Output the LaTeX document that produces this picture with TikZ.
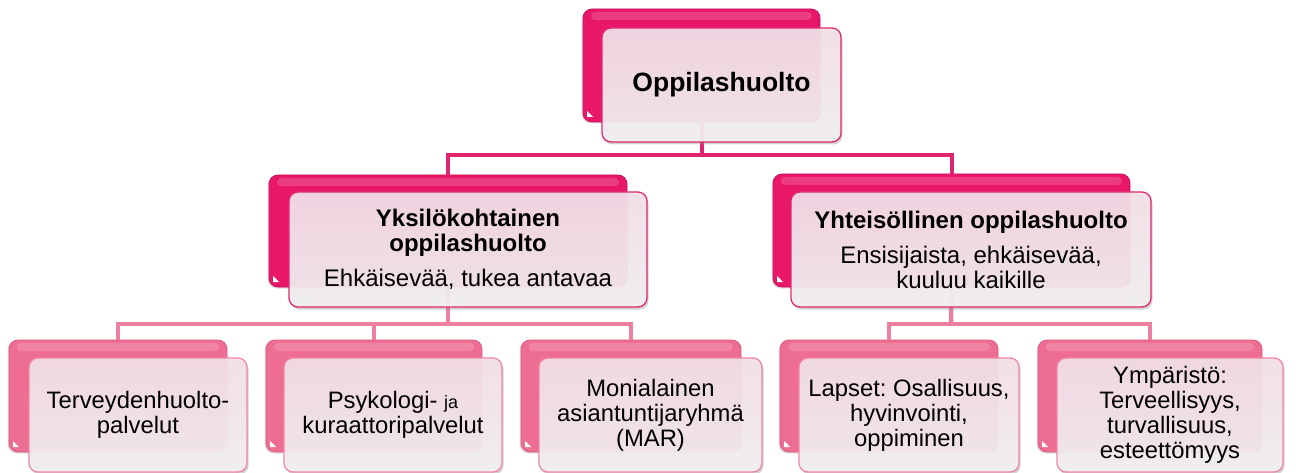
\documentclass[tikz,border=0pt]{standalone}
\usepackage{fontspec}
\setmainfont{Liberation Sans}
\usetikzlibrary{calc,shadows}
\frenchspacing
\definecolor{magBase}{HTML}{E8176A}
\definecolor{magDark}{HTML}{C9105A}
\definecolor{pinkBase}{HTML}{EE6D93}
\definecolor{pinkDark}{HTML}{DA5A80}
\definecolor{frTop}{HTML}{F4E0E9}
\definecolor{frBot}{HTML}{F3F1F2}
\definecolor{frLineA}{HTML}{E1286F}
\definecolor{frLineC}{HTML}{EF86A5}
\definecolor{connA}{HTML}{E0246E}
\definecolor{connC}{HTML}{EE809F}
\tikzset{
  backA/.style={anchor=north west, inner sep=0pt, outer sep=0pt, rounded corners=9pt,
    draw=magDark, line width=0.8pt, fill=magBase,
    drop shadow={shadow xshift=-1.5pt, shadow yshift=-1.5pt, opacity=0.25}},
  backC/.style={anchor=north west, inner sep=0pt, outer sep=0pt, rounded corners=9pt,
    draw=pinkDark, line width=0.8pt, fill=pinkBase,
    drop shadow={shadow xshift=-1.5pt, shadow yshift=-1.5pt, opacity=0.25}},
  frontA/.style={anchor=north west, inner sep=4pt, outer sep=0pt, rounded corners=9pt,
    draw=frLineA, line width=1.3pt, top color=frTop, bottom color=frBot, fill opacity=0.92,
    text opacity=1, align=center,
    drop shadow={shadow xshift=1.5pt, shadow yshift=-2.5pt, opacity=0.35}},
  frontC/.style={anchor=north west, inner sep=4pt, outer sep=0pt, rounded corners=9pt,
    draw=frLineC, line width=1.3pt, top color=frTop, bottom color=frBot, fill opacity=0.92,
    text opacity=1, align=center,
    drop shadow={shadow xshift=1.5pt, shadow yshift=-2.5pt, opacity=0.35}},
  connA/.style={draw=connA, line width=4pt},
  connC/.style={draw=connC, line width=4.5pt},
  gloss/.style={fill=white, opacity=0.16, rounded corners=4pt},
  fold/.style={fill=white},
  tOne/.style={font=\fontsize{26.5}{30}\selectfont\bfseries},
  tTwo/.style={font=\fontsize{24}{25}\selectfont},
  tThree/.style={font=\fontsize{23.8}{25}\selectfont},
}
\begin{document}
\begin{tikzpicture}[x=1pt,y=-1pt]
\useasboundingbox (0,0) rectangle (1296,473);
% junctions
\coordinate (j0) at (701.5,155);
\coordinate (j1) at (448,324);
\coordinate (j2) at (951,324);
% back boxes
\node[backA, minimum width=237pt, minimum height=113pt] (topb) at (583,9) {};
\node[backA, minimum width=358pt, minimum height=112pt] (leftb) at (269,175) {};
\node[backA, minimum width=357pt, minimum height=113pt] (rightb) at (773,174) {};
\node[backC, minimum width=218pt, minimum height=112pt] (c1b) at (9,340) {};
\node[backC, minimum width=216pt, minimum height=112pt] (c2b) at (266,340) {};
\node[backC, minimum width=220pt, minimum height=112pt] (c3b) at (521,340) {};
\node[backC, minimum width=218pt, minimum height=112pt] (c4b) at (780,340) {};
\node[backC, minimum width=224pt, minimum height=112pt] (c5b) at (1038,340) {};
% connectors
\draw[connA] (topb.south) -- (j0);
\draw[connA] (leftb.north) |- (j0) -| (rightb.north);
\draw[connC] (leftb.south) -- (j1);
\draw[connC] (c1b.north) |- (j1) -| (c3b.north);
\draw[connC] (c2b.north) -- (c2b.north |- j1);
\draw[connC] (rightb.south) -- (j2);
\draw[connC] (c4b.north) |- (j2) -| (c5b.north);
% gloss and folds
\foreach \n in {topb,leftb,rightb,c1b,c2b,c3b,c4b,c5b}{
  \fill[gloss] ($(\n.north west)+(8,3)$) rectangle ($(\n.north east)+(-8,11)$);
  \fill[fold] ($(\n.south west)+(4,-5)$) -- ++(6,0) -- ++(-6,-6) -- cycle;
}
% front boxes
\node[frontA, tOne, minimum width=239pt, minimum height=114pt] (topf) at ($(topb.north west)+(19,19)$) {Oppilashuolto};
\node[frontA, tTwo, minimum width=358pt, minimum height=115pt] (leftf) at ($(leftb.north west)+(20,17)$)
  {\textbf{Yksilökohtainen}\\\textbf{oppilashuolto}\\[10pt]Ehkäisevää, tukea antavaa};
\node[frontA, tTwo, minimum width=360pt, minimum height=115pt] (rightf) at ($(rightb.north west)+(18,18)$)
  {\textbf{Yhteisöllinen oppilashuolto}\\[10pt]Ensisijaista, ehkäisevää,\\kuuluu kaikille};
\node[frontC, tThree, minimum width=218pt, minimum height=114pt] (c1f) at ($(c1b.north west)+(20,18)$)
  {Terveydenhuolto-\\palvelut};
\node[frontC, tThree, minimum width=218pt, minimum height=114pt] (c2f) at ($(c2b.north west)+(18,18)$)
  {Psykologi- {\fontsize{18}{20}\selectfont ja}\\kuraattoripalvelut};
\node[frontC, tThree, minimum width=223pt, minimum height=114pt] (c3f) at ($(c3b.north west)+(18,18)$)
  {Monialainen\\asiantuntijaryhmä\\(MAR)};
\node[frontC, tThree, minimum width=220pt, minimum height=114pt] (c4f) at ($(c4b.north west)+(19,18)$)
  {Lapset: Osallisuus,\\hyvinvointi,\\oppiminen};
\node[frontC, tThree, minimum width=226pt, minimum height=114pt] (c5f) at ($(c5b.north west)+(19,18)$)
  {Ympäristö:\\Terveellisyys,\\turvallisuus,\\esteettömyys};
\end{tikzpicture}
\end{document}
